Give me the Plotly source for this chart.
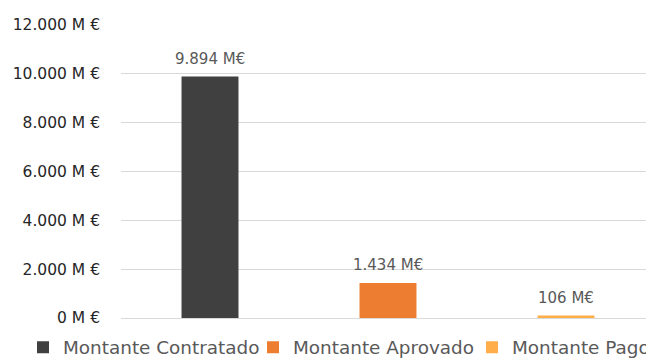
import plotly.graph_objects as go

categories = ["Montante Contratado", "Montante Aprovado", "Montante Pago"]
values = [9894, 1434, 106]
labels = ["9.894 M€", "1.434 M€", "106 M€"]
colors = ["#404040", "#ED7D31", "#FFAE4A"]
tick_vals = [0, 2000, 4000, 6000, 8000, 10000, 12000]
tick_text = ["0 M €", "2.000 M €", "4.000 M €", "6.000 M €", "8.000 M €", "10.000 M €", "12.000 M €"]

FONT = "DejaVu Sans"
L, W = 121, 646
PW = W - L
legend_names = ["legend", "legend2", "legend3"]
legend_px = [23, 253, 472]

fig = go.Figure()
for i, (c, v, col) in enumerate(zip(categories, values, colors)):
    fig.add_trace(go.Bar(x=[i], y=[v], name=c, marker=dict(color=col, line=dict(width=0)),
                         width=0.32, hoverinfo="skip", legend=legend_names[i]))
    fig.add_annotation(x=i, y=v, text=labels[i], showarrow=False, yshift=17.5, yanchor="middle",
                       font=dict(family=FONT, size=15, color="#595959"))

leg_common = dict(orientation="h", xanchor="left", yanchor="middle", y=-0.1,
                  font=dict(family=FONT, size=18.4, color="#595959"), itemwidth=30,
                  bgcolor="rgba(0,0,0,0)")
layout_legends = {}
for name, px in zip(legend_names, legend_px):
    layout_legends[name] = dict(leg_common, x=(px - L) / PW)

fig.update_layout(
    width=W, height=358,
    margin=dict(l=L, r=0, t=25, b=40, autoexpand=False),
    paper_bgcolor="white", plot_bgcolor="white",
    barmode="overlay",
    showlegend=True,
    xaxis=dict(range=[-0.5, PW / 178 - 0.5], showticklabels=False, showgrid=False, zeroline=False,
               showline=False, ticks=""),
    yaxis=dict(range=[0, 12000], tickvals=tick_vals, ticktext=tick_text, showgrid=True,
               gridcolor="#D9D9D9", gridwidth=1, zeroline=True, zerolinecolor="#D9D9D9",
               zerolinewidth=1, showline=False, ticks="", ticklabelstandoff=20,
               tickfont=dict(family=FONT, size=15.5, color="#262626")),
    **layout_legends,
)
fig.write_html("out.html")
